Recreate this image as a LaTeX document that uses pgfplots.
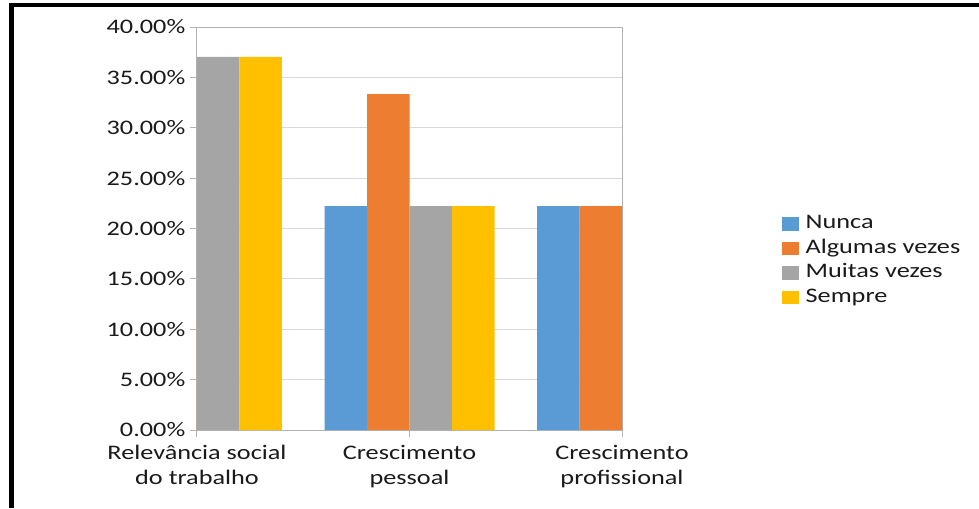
\documentclass[border=0pt]{standalone}
\usepackage{pgfplots}
\pgfplotsset{compat=1.18}
\usepackage{fontspec}
\setmainfont{Carlito}[FakeStretch=1.27]

\definecolor{cBlue}{HTML}{5B9BD5}
\definecolor{cOrange}{HTML}{ED7D31}
\definecolor{cGray}{HTML}{A5A5A5}
\definecolor{cYellow}{HTML}{FFC000}
\definecolor{gridc}{HTML}{D9D9D9}
\definecolor{axisc}{HTML}{B3B3B3}
\definecolor{textc}{HTML}{1A1A1A}

\begin{document}
\begin{tikzpicture}[font=\fontsize{15.5pt}{17.25pt}\selectfont]
% page frame (units of 0.75pt)
\begin{scope}[x=0.75pt,y=0.75pt]
  \path[use as bounding box] (0,0) rectangle (979,508);
  \fill[black] (8.5,0) rectangle (13.5,505);
  \fill[black] (8.5,501) rectangle (979,505);
\end{scope}
\begin{axis}[
  at={(147.75pt,58.5pt)}, anchor=south west,
  scale only axis, width=318.75pt, height=302.25pt,
  ybar=0pt, bar width=31.875pt,
  xmin=0, xmax=2, ymin=0, ymax=40,
  xtick={0,1,2},
  xticklabels={{Relevância social\\do trabalho},{Crescimento\\pessoal},{Crescimento\\profissional}},
  xticklabel style={align=center, text=textc, yshift=-2.5pt,
    font=\fontsize{15.5pt}{18.75pt}\selectfont},
  ytick={0,5,10,15,20,25,30,35,40},
  yticklabels={0.00\%,5.00\%,10.00\%,15.00\%,20.00\%,25.00\%,30.00\%,35.00\%,40.00\%},
  yticklabel style={text=textc},
  /pgf/number format/assume math mode=true,
  ymajorgrids, major grid style={gridc, line width=0.75pt},
  axis line style={axisc, line width=0.75pt},
  tick style={axisc, line width=0.75pt},
  tick align=outside, major tick length=5.25pt,
  xtick pos=bottom, ytick pos=left,
  legend cell align=left,
  legend image code/.code={\fill[#1] (0pt,-5pt) rectangle (12.75pt,5pt);
    \path (15.75pt,0pt);},
  legend style={at={(1.3758,0.536)}, anchor=north west, draw=none, fill=none,
    inner sep=0pt, row sep=3.9pt, text=textc,
    nodes={inner ysep=0pt, text height=11pt, text depth=3.5pt},
    /tikz/every even column/.append style={column sep=0pt}},
]
% Nunca
\addplot[fill=cBlue, draw=none] coordinates {(0,14.81) (1,22.22) (2,22.22)};
% Algumas vezes
\addplot[fill=cOrange, draw=none] coordinates {(0,11.11) (1,33.33) (2,22.22)};
% Muitas vezes
\addplot[fill=cGray, draw=none] coordinates {(0,37.04) (1,22.22) (2,29.63)};
% Sempre
\addplot[fill=cYellow, draw=none] coordinates {(0,37.04) (1,22.22) (2,25.93)};
\legend{Nunca, Algumas vezes, Muitas vezes, Sempre}
\end{axis}
\end{tikzpicture}
\end{document}
